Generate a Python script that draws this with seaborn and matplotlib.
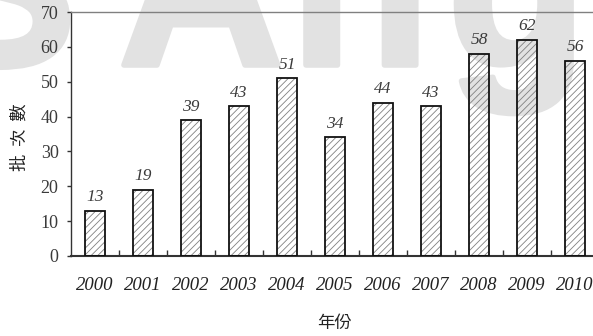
import matplotlib
matplotlib.use("Agg")
import matplotlib.pyplot as plt
import matplotlib.patheffects as pe
import seaborn as sns
import pandas as pd

years = ["2000", "2001", "2002", "2003", "2004", "2005",
         "2006", "2007", "2008", "2009", "2010"]
batches = [13, 19, 39, 43, 51, 34, 44, 43, 58, 62, 56]
y_ticks = [0, 10, 20, 30, 40, 50, 60, 70]

df = pd.DataFrame({"年份": years, "批次數": batches})

sns.set_theme(style="white")
plt.rcParams["font.family"] = ["Liberation Serif", "Noto Sans CJK TC"]
plt.rcParams["hatch.linewidth"] = 0.6

W, H = 593, 336
fig = plt.figure(figsize=(W / 100, H / 100), dpi=100)
ax = fig.add_axes([71 / W, 80 / H, 528 / W, 244 / H])
ax.patch.set_alpha(0)

# hatched fill (transparent face, gray hatch)
sns.barplot(data=df, x="年份", y="批次數", ax=ax, width=0.4,
            facecolor="none", edgecolor="#808080", linewidth=0,
            hatch="/////", errorbar=None, zorder=2)
# black outline
sns.barplot(data=df, x="年份", y="批次數", ax=ax, width=0.4,
            fill=False, edgecolor="#111111", linewidth=1.3,
            errorbar=None, zorder=3)

ax.bar_label(ax.containers[0], labels=[str(v) for v in batches],
             padding=4, fontsize=12.5, style="italic", color="#3a3a3a")

ax.set_xlim(-0.5, len(years) - 0.5)
ax.set_ylim(0, 70)
ax.set_yticks(y_ticks)
ax.set_yticklabels([str(t) for t in y_ticks], fontsize=13, color="#3a3a3a")
ax.set_xticks(range(len(years)))
ax.set_xticklabels(years, fontsize=13.5, style="italic", color="#222222")
ax.set_xticks([i + 0.5 for i in range(len(years) - 1)], minor=True)
ax.tick_params(axis="x", which="major", length=0, pad=15)
ax.tick_params(axis="x", which="minor", direction="in", length=4,
               width=1, color="#333333", bottom=True)
ax.tick_params(axis="y", which="major", direction="out", length=3,
               width=1, color="#333333", pad=6, left=True)

ax.spines["right"].set_visible(False)
ax.spines["top"].set_color("#808080")
ax.spines["top"].set_linewidth(1.0)
ax.spines["left"].set_color("#333333")
ax.spines["left"].set_linewidth(1.0)
ax.spines["bottom"].set_color("#333333")
ax.spines["bottom"].set_linewidth(1.5)

ax.set_xlabel("")
ax.set_ylabel("")
fig.text(335 / W, 1 - 323 / H, "年份", family="Noto Sans CJK TC",
         fontsize=12.5, color="#222222", ha="center", va="center")
fig.text(20 / W, 1 - 137 / H, "批  次  數", family="Noto Sans CJK TC",
         fontsize=12.5, color="#222222", ha="center", va="center",
         rotation=90)

# faint logo lettering across the top, behind the chart
for ch, cx in [("S", 0), ("A", 201), ("n", 360), ("g", 517)]:
    fig.text(cx / W, 1 - 65 / H, ch, family="Liberation Sans",
             fontweight="bold", fontsize=165, color="#e2e2e2",
             ha="center", va="baseline", zorder=-1,
             path_effects=[pe.withStroke(linewidth=4, foreground="#e2e2e2")])

fig.savefig("out.png", dpi=100)
